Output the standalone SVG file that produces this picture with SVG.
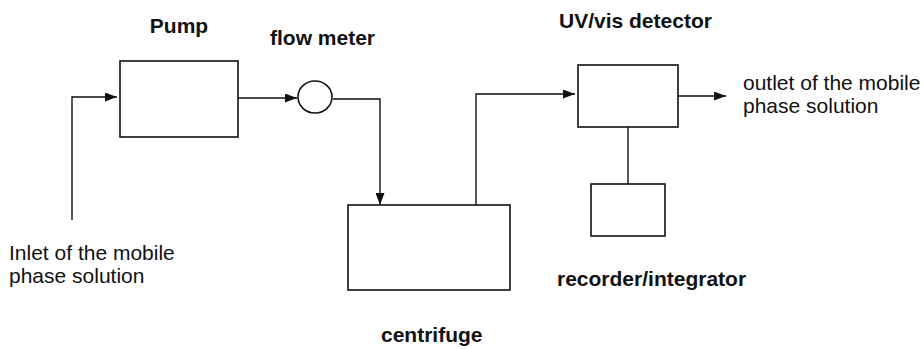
<svg xmlns="http://www.w3.org/2000/svg" width="924" height="349" viewBox="0 0 924 349">
<defs>
<style>
.box{fill:#fff;stroke:#111;stroke-width:1.6}
.ln{fill:none;stroke:#111;stroke-width:1.4}
.lbl{font-family:"Liberation Sans",Arial,sans-serif;font-size:21px;fill:#111}
.bold{font-weight:bold}
</style>
<marker id="arr" viewBox="0 0 12 9" refX="12" refY="4.5" markerWidth="12" markerHeight="9" markerUnits="userSpaceOnUse" orient="auto">
<path d="M0,0 L12,4.5 L0,9 z" fill="#111"/>
</marker>
</defs>
<rect width="924" height="349" fill="#fff"/>
<g id="connectors">
<polyline class="ln" points="72,220 72,97 117,97" marker-end="url(#arr)"/>
<line class="ln" x1="238" y1="98" x2="297" y2="98" marker-end="url(#arr)"/>
<polyline class="ln" points="333,99 380,99 380,205" marker-end="url(#arr)"/>
<polyline class="ln" points="476,205 476,94 575,94" marker-end="url(#arr)"/>
<line class="ln" x1="678" y1="96" x2="726" y2="96" marker-end="url(#arr)"/>
<line class="ln" x1="628" y1="127" x2="628" y2="184"/>
</g>
<g id="pump">
<rect class="box" x="120" y="61" width="118" height="76"/>
<text class="lbl bold" x="179" y="33" text-anchor="middle">Pump</text>
</g>
<g id="flowmeter">
<ellipse class="box" cx="315" cy="97" rx="17" ry="16"/>
<text class="lbl bold" x="270" y="45">flow meter</text>
</g>
<g id="centrifuge">
<rect class="box" x="348" y="205" width="162" height="85"/>
<text class="lbl bold" x="381" y="342">centrifuge</text>
</g>
<g id="detector">
<rect class="box" x="578" y="65" width="100" height="62"/>
<text class="lbl bold" x="559" y="28">UV/vis detector</text>
</g>
<g id="recorder">
<rect class="box" x="591" y="184" width="74" height="52"/>
<text class="lbl bold" x="557" y="286">recorder/integrator</text>
</g>
<g id="inlet">
<text class="lbl" x="9" y="260">Inlet of the mobile</text>
<text class="lbl" x="9" y="283">phase solution</text>
</g>
<g id="outlet">
<text class="lbl" x="743" y="90">outlet of the mobile</text>
<text class="lbl" x="743" y="113">phase solution</text>
</g>
</svg>
